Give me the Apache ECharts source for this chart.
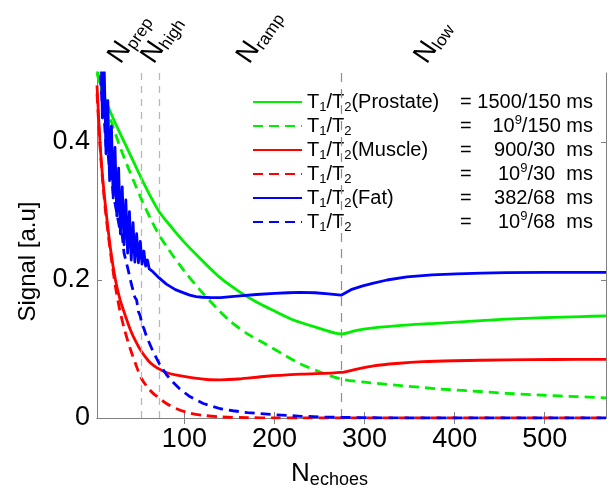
<!DOCTYPE html>
<html>
<head>
<meta charset="utf-8">
<script src="https://cdn.jsdelivr.net/npm/echarts@6.0.0/dist/echarts.min.js"></script>
<style>
html,body{margin:0;padding:0;background:#fff;}
#chart{width:612px;height:494px;}
</style>
</head>
<body>
<div id="chart"></div>
<script>
var xMin = 3, xMax = 568;
var xTicks = [100, 200, 300, 400, 500];
var yTicks = [0, 0.2, 0.4];
var phaseLines = [52, 72];
var lowLine = 274;
// label text, x position (echoes) where the label starts
var phaseLabels = [['prep', 36], ['high', 73], ['ramp', 179], ['low', 376]];

// T1/T2 = 1500/150 ms
var prostate = [[3,0.505],[10,0.47],[20,0.437],[35,0.395],[52,0.348],[62,0.322],[72,0.299],[86,0.276],[99,0.256],[120,0.228],[140,0.203],[160,0.184],[180,0.168],[200,0.155],[221,0.142],[250,0.13],[274,0.122],[290,0.1265],[310,0.1305],[345,0.1345],[384,0.1376],[420,0.1405],[457,0.1432],[500,0.1455],[540,0.147],[568,0.148]];
// T1/T2 = 1e9/150 ms
var prostateT2 = [[3,0.5],[10,0.465],[20,0.425],[32,0.381],[52,0.318],[62,0.29],[72,0.265],[80,0.249],[88,0.234],[100,0.213],[117,0.186],[136,0.159],[151,0.14],[170,0.122],[191,0.1065],[210,0.092],[228,0.079],[250,0.067],[274,0.0564],[300,0.052],[340,0.047],[384,0.042],[420,0.039],[457,0.0358],[500,0.033],[535,0.031],[568,0.0292]];
// T1/T2 = 900/30 ms
var muscle = [[3,0.482],[6.3,0.4],[9.5,0.345],[13,0.3],[18,0.245],[23.5,0.2],[28.5,0.172],[34,0.15],[40,0.128],[46,0.111],[52,0.097],[60,0.083],[66,0.076],[72,0.071],[80,0.066],[90,0.0625],[106,0.0588],[125,0.0558],[140,0.0553],[160,0.0565],[191,0.0605],[230,0.0635],[274,0.066],[290,0.0705],[310,0.0755],[335,0.079],[365,0.0817],[400,0.083],[457,0.0842],[510,0.0848],[568,0.085]];
// T1/T2 = 1e9/30 ms
var muscleT2 = [[3,0.47],[6.3,0.395],[9.5,0.34],[13,0.293],[18,0.24],[23.5,0.19],[28.5,0.155],[34,0.126],[40,0.1],[46,0.078],[52,0.058],[60,0.043],[66,0.035],[72,0.029],[80,0.021],[92,0.013],[105,0.0075],[120,0.004],[140,0.0016],[170,0.0005],[200,0.0001],[230,0],[568,0]];
// T1/T2 = 382/68 ms (odd/even echo oscillation at the start)
var fat = [[3,0.65],[5,0.51],[7,0.57],[9,0.435],[11,0.507],[13,0.383],[15,0.46],[17,0.344],[19,0.423],[21,0.319],[23,0.392],[25,0.293],[27,0.362],[29,0.267],[31,0.335],[33,0.251],[35,0.316],[37,0.239],[39,0.299],[41,0.229],[43,0.283],[45,0.226],[47,0.267],[49,0.225],[51,0.256],[53,0.223],[55,0.242],[57,0.22],[59,0.229],[61,0.216],[63,0.218],[65,0.212],[67,0.21],[72,0.203],[80,0.194],[90,0.186],[100,0.181],[106,0.178],[113,0.176],[120,0.175],[130,0.1745],[140,0.1745],[152,0.176],[165,0.1775],[180,0.179],[200,0.1805],[215,0.1815],[228,0.182],[245,0.1815],[260,0.18],[274,0.178],[285,0.186],[298,0.1915],[310,0.1955],[325,0.2],[347,0.2045],[375,0.2075],[402,0.209],[430,0.21],[457,0.2107],[500,0.211],[568,0.211]];
// T1/T2 = 1e9/68 ms
var fatT2 = [[3,0.566],[5,0.518],[7,0.494],[9,0.45],[11,0.434],[13,0.394],[15,0.388],[17,0.357],[19,0.351],[21,0.325],[23,0.323],[25,0.297],[27,0.296],[29,0.269],[31,0.265],[33,0.239],[35,0.24],[37,0.218],[39,0.216],[41,0.195],[43,0.193],[45,0.175],[47,0.171],[49,0.154],[51,0.148],[53,0.135],[55,0.13],[58,0.118],[65,0.097],[72,0.079],[80,0.063],[88,0.051],[95,0.042],[105,0.032],[121,0.021],[140,0.0134],[154,0.0105],[170,0.0078],[202,0.0047],[230,0.0025],[260,0.0012],[300,0.0004],[350,0],[568,0]];

var tissues = ['(Prostate)', '', '(Muscle)', '', '(Fat)', ''];
var values = [['1500/150 ms'], ['10', '9', '/150 ms'], ['900/30  ms'], ['10', '9', '/30  ms'], ['382/68  ms'], ['10', '9', '/68  ms']];

var FONT = '"Liberation Sans", Arial, Helvetica, sans-serif';
var ctx = document.createElement('canvas').getContext('2d');
function tw(s, size){
	ctx.font = size + 'px ' + FONT;
	return ctx.measureText(s).width;
}

var names = ['prostate', 'prostateT2', 'muscle', 'muscleT2', 'fat', 'fatT2'];
var legendRich = {
	t:{fontSize:20},
	s:{fontSize:13, verticalAlign:'bottom'},
	p:{fontSize:13, verticalAlign:'top'}
};
var legendText = {};
names.forEach(function(nm, i){
	var parts = [['t','T'],['s','1'],['t','/T'],['s','2']];
	if(tissues[i]) parts.push(['t', tissues[i]]);
	var w = 0, str = '';
	parts.forEach(function(p){ w += tw(p[1], p[0]=='t'?20:13); str += '{'+p[0]+'|'+p[1]+'}'; });
	legendRich['g'+i] = {fontSize:20, width:Math.max(1, 153 - w)};
	str += '{g'+i+'| }{t|=}';
	var v = values[i], vw = 0, vs = '';
	if(v.length == 1){ vw = tw(v[0], 20); vs = '{t|'+v[0]+'}'; }
	else{
		vw = tw(v[0],20) + tw(v[1],13) + tw(v[2],20);
		vs = '{t|'+v[0]+'}{p|'+v[1]+'}{t|'+v[2]+'}';
	}
	legendRich['h'+i] = {fontSize:20, width:Math.max(1, 286 - 153 - tw('=',20) - vw)};
	legendText[nm] = str + '{h'+i+'| }' + vs;
});

var myChart = echarts.init(document.getElementById('chart'));

function line(name, data, color, dashed, smooth, z){
	return {
		name:name, type:'line', data:data, symbol:'none', showSymbol:false,
		smooth:smooth, z:z, animation:false,
		itemStyle:{color:color},
		lineStyle:{color:color, width:2.8, type:dashed ? [10,6] : 'solid', join:'round'},
		emphasis:{disabled:true}
	};
}

var axisGray = '#808080';
option = {
	backgroundColor:'#fff',
	animation:false,
	grid:{left:97, right:6, top:73, bottom:73},
	legend:{
		data:names, left:252, top:90, orient:'vertical', padding:0,
		itemWidth:49, itemHeight:14, itemGap:0,
		itemStyle:{opacity:0},
		formatter:function(n){ return legendText[n]; },
		textStyle:{fontSize:20, fontFamily:FONT, color:'#000', lineHeight:24, rich:legendRich},
		selectedMode:false
	},
	xAxis:[{
		type:'value', min:xMin, max:xMax, position:'bottom',
		name:'{n|N}{s|echoes}', nameLocation:'middle', nameGap:41,
		nameTextStyle:{fontFamily:FONT, color:'#000', fontSize:26, lineHeight:30, padding:[0,44,0,0],
			rich:{n:{fontSize:26}, s:{fontSize:18, verticalAlign:'bottom'}}},
		axisLine:{lineStyle:{color:axisGray, width:1}},
		axisTick:{inside:true, length:6, customValues:xTicks, lineStyle:{color:axisGray}},
		axisLabel:{customValues:xTicks, fontSize:27, fontFamily:FONT, color:'#000', margin:8},
		splitLine:{show:false}
	},{
		type:'value', min:xMin, max:xMax, position:'top',
		axisLine:{lineStyle:{color:axisGray, width:1}},
		axisTick:{inside:true, length:6, customValues:xTicks, lineStyle:{color:axisGray}},
		axisLabel:{show:false},
		splitLine:{show:false}
	}],
	yAxis:[{
		type:'value', min:0, max:0.5, position:'left',
		name:'Signal [a.u]', nameLocation:'middle', nameGap:57, nameRotate:90,
		nameTextStyle:{fontFamily:FONT, color:'#000', fontSize:24, padding:[0,32,0,0]},
		axisLine:{show:true, lineStyle:{color:axisGray, width:1}},
		axisTick:{show:true, inside:true, length:5, customValues:yTicks, lineStyle:{color:axisGray}},
		axisLabel:{customValues:yTicks, fontSize:27, fontFamily:FONT, color:'#000', margin:7},
		splitLine:{show:false}
	},{
		type:'value', min:0, max:0.5, position:'right',
		axisLine:{show:true, lineStyle:{color:axisGray, width:1}},
		axisTick:{show:true, inside:true, length:5, customValues:yTicks, lineStyle:{color:axisGray}},
		axisLabel:{show:false},
		splitLine:{show:false}
	}],
	series:[
		{
			name:'phases', type:'line', data:[], z:1, silent:true,
			markLine:{
				silent:true, symbol:['none','none'], animation:false,
				label:{show:false},
				data:[
					{xAxis:phaseLines[0], lineStyle:{color:'#b8b8b8', type:[7,6], width:1.3}},
					{xAxis:phaseLines[1], lineStyle:{color:'#b8b8b8', type:[7,6], width:1.3}},
					{xAxis:lowLine, lineStyle:{color:'#8c8c8c', type:[9,7], width:1.2}}
				]
			}
		},
		line('prostate', prostate, '#00ee00', false, 0.3, 3),
		line('prostateT2', prostateT2, '#00ee00', true, 0.3, 3),
		line('muscle', muscle, '#ff0000', false, 0.3, 4),
		line('muscleT2', muscleT2, '#ff0000', true, 0.3, 4),
		line('fat', fat, '#0000ff', false, false, 5),
		line('fatT2', fatT2, '#0000ff', true, false, 5)
	]
};
myChart.setOption(option);

// rotated phase labels above the plot, anchored on the x axis scale
var labelGraphics = phaseLabels.map(function(p){
	return {
		type:'text',
		x:myChart.convertToPixel({xAxisIndex:0}, p[1]),
		y:69,
		rotation:56 * Math.PI / 180,
		style:{
			text:'{n|N}{s|' + p[0] + '}',
			fill:'#000',
			align:'left',
			verticalAlign:'bottom',
			lineHeight:30,
			rich:{
				n:{fontSize:27, fontFamily:FONT, fill:'#000'},
				s:{fontSize:17, fontFamily:FONT, fill:'#000', verticalAlign:'bottom'}
			}
		}
	};
});
myChart.setOption({graphic:labelGraphics});
</script>
</body>
</html>
